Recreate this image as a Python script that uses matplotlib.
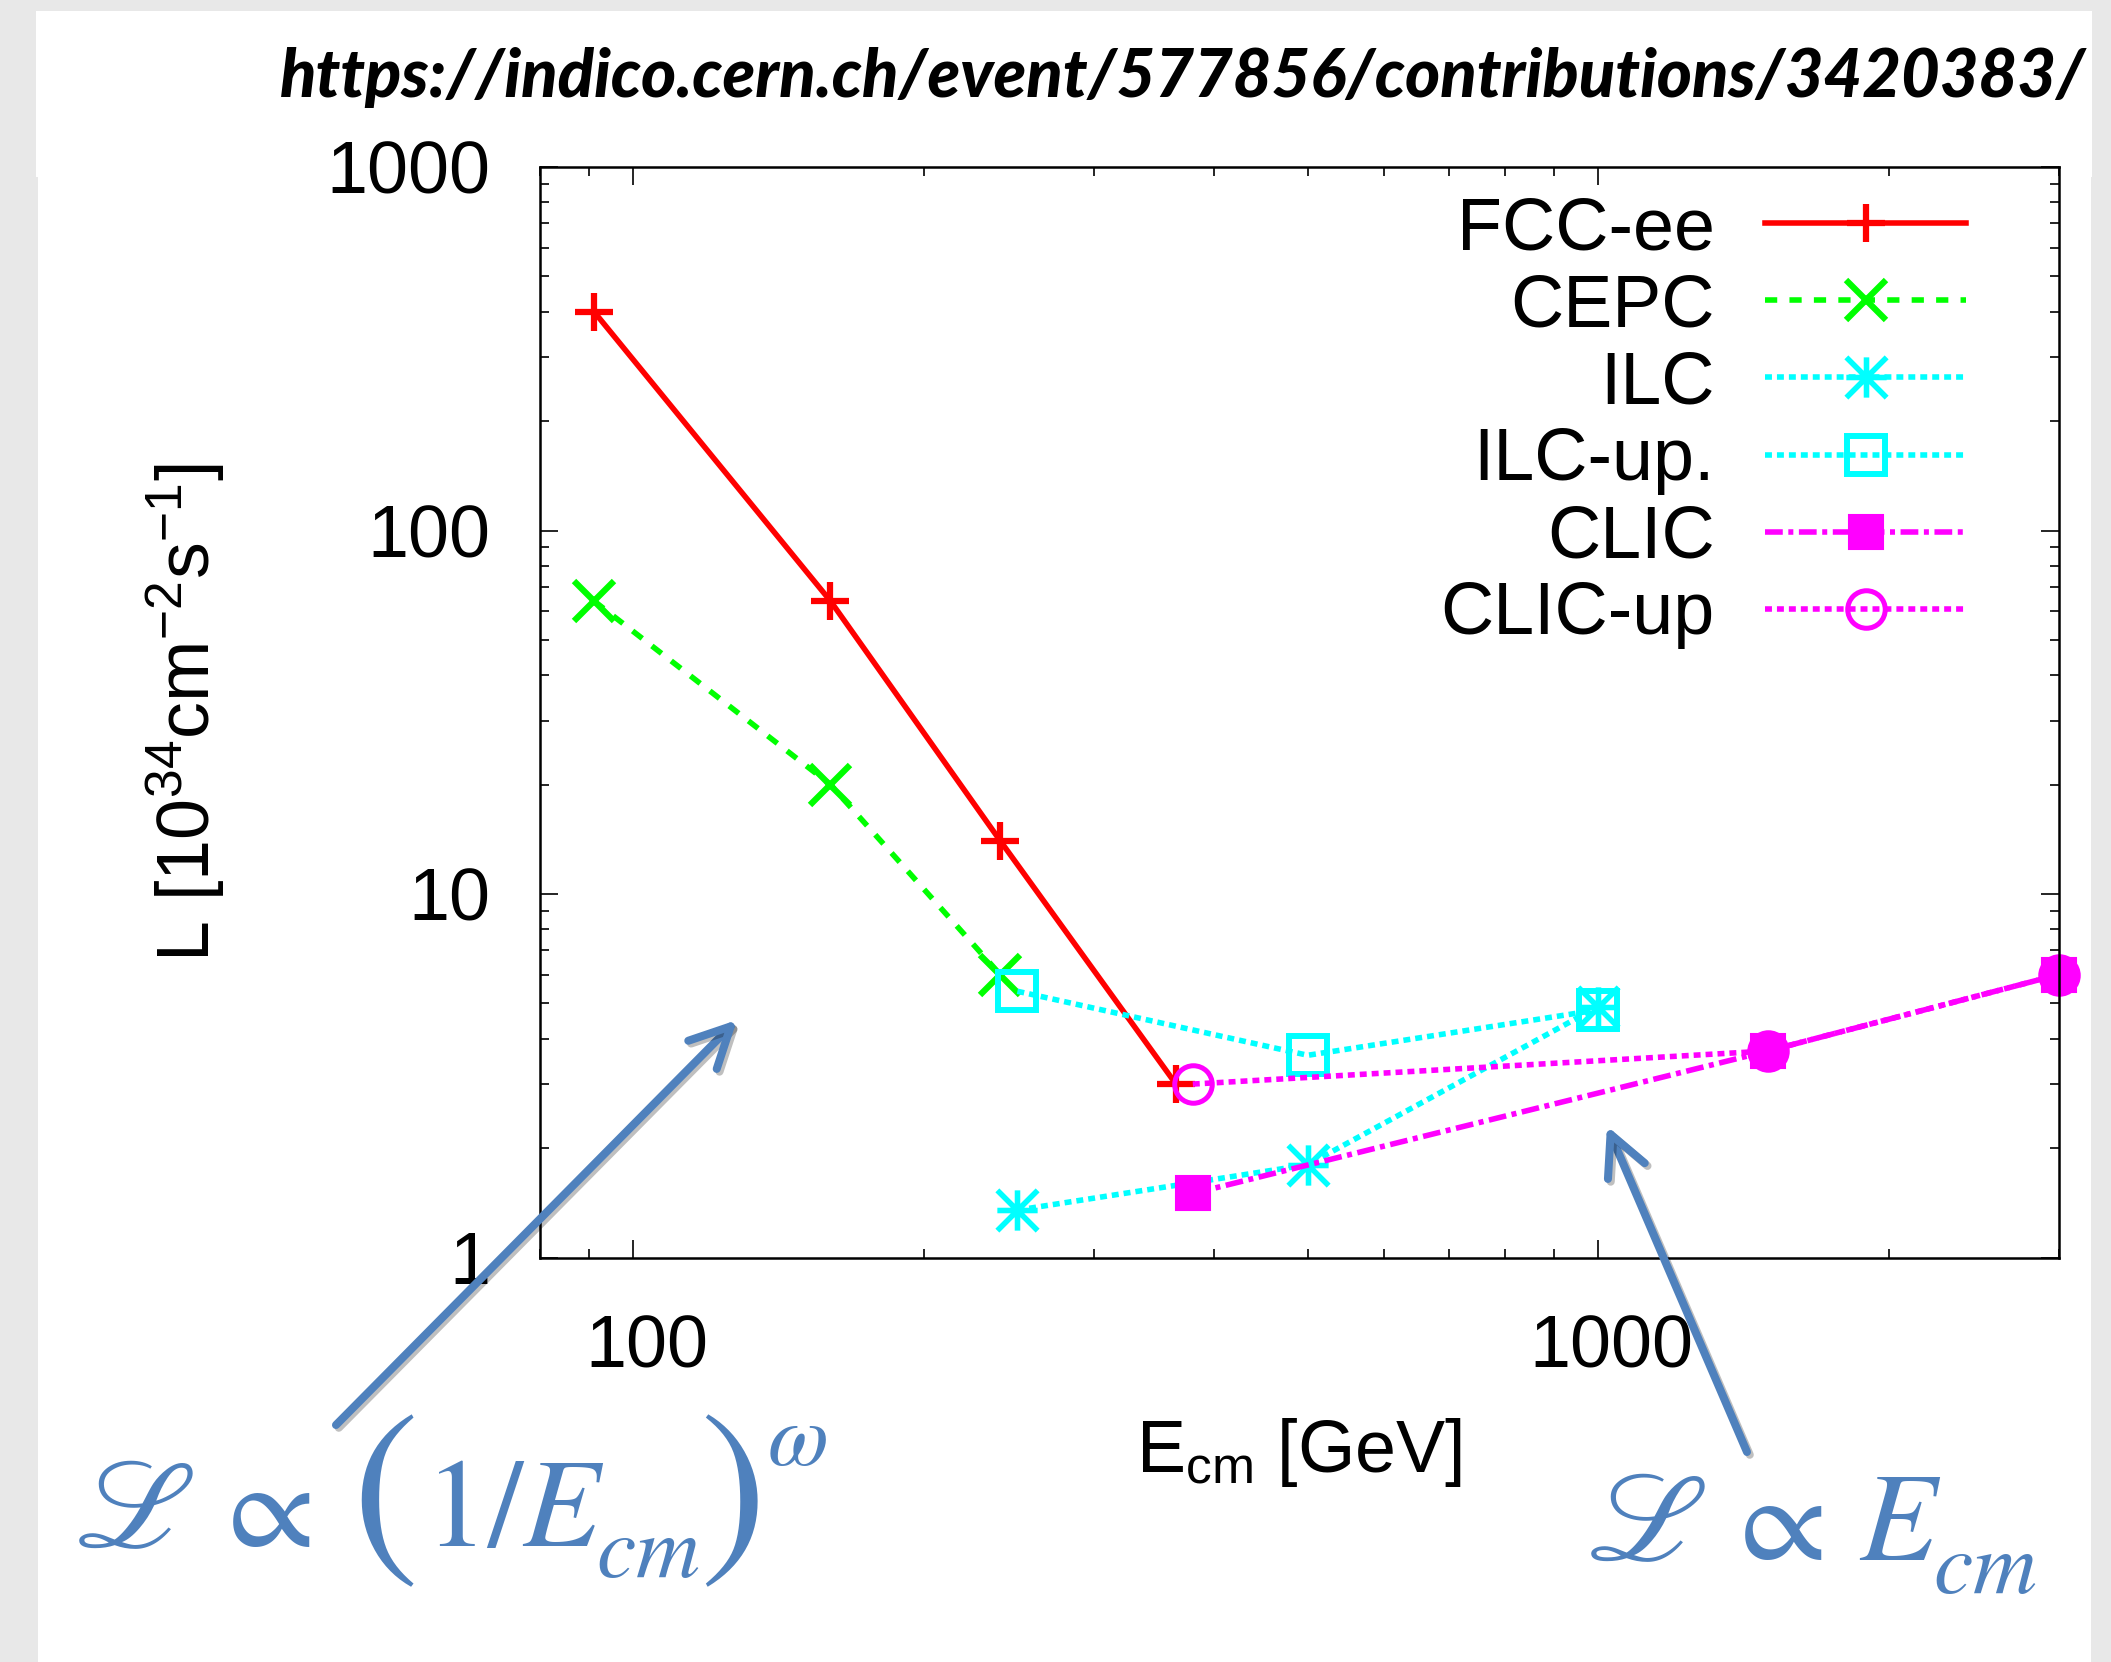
import numpy as np
import matplotlib
matplotlib.use('Agg')
import matplotlib.pyplot as plt
from matplotlib.patches import Rectangle
from matplotlib.path import Path
from matplotlib.ticker import FixedLocator, FixedFormatter, LogLocator, NullFormatter
import matplotlib.transforms as mtransforms
import matplotlib.patheffects as pe

# ---------------- data ----------------
fcc_E = [91, 160, 240, 365]
fcc_L = [400, 64, 14, 3.0]
cepc_E = [91, 160, 240]
cepc_L = [64, 20, 6.0]
ilc_E = [250, 500, 1000]
ilc_L = [1.35, 1.8, 4.9]
ilcup_E = [250, 500, 1000]
ilcup_L = [5.4, 3.6, 4.8]
clic_E = [380, 1500, 3000]
clic_L = [1.5, 3.7, 6.0]
clicup_E = [380, 1500, 3000]
clicup_L = [3.0, 3.7, 6.0]

series_labels = ['FCC-ee', 'CEPC', 'ILC', 'ILC-up.', 'CLIC', 'CLIC-up']
x_ticks = [100, 1000]
x_tick_labels = ['100', '1000']
y_ticks = [1, 10, 100, 1000]
y_tick_labels = ['1', '10', '100', '1000']
url_text = 'https://indico.cern.ch/event/577856/contributions/3420383/'

# ---------------- style ----------------
W, H = 2111, 1662
DPI = 100
plt.rcParams['font.family'] = ['Liberation Sans', 'DejaVu Sans']
plt.rcParams['mathtext.fontset'] = 'custom'
plt.rcParams['mathtext.rm'] = 'Liberation Sans'
plt.rcParams['mathtext.it'] = 'Liberation Sans:italic'
plt.rcParams['mathtext.bf'] = 'Liberation Sans:bold'
plt.rcParams['mathtext.default'] = 'it'

FS = 53
LW = 4.0
BLUE = '#4f81bd'
FF = 91  # formula font size


def fx(px):
    return px / W


def fy(py):
    return 1 - py / H


fig = plt.figure(figsize=(W / DPI, H / DPI), dpi=DPI)
fig.patch.set_facecolor('#e8e8e8')
fig.add_artist(Rectangle((fx(36), fy(177)), fx(2092) - fx(36), (177 - 11) / H,
                         transform=fig.transFigure, fc='white', ec='none', zorder=-5))
fig.add_artist(Rectangle((fx(38), 0), fx(2091) - fx(38), fy(177),
                         transform=fig.transFigure, fc='white', ec='none', zorder=-5))

ax = fig.add_axes([fx(540), fy(1257.5), (2058.5 - 540) / W, (1257.5 - 167) / H])
ax.patch.set_alpha(0)
ax.set_xscale('log')
ax.set_yscale('log')
ax.set_xlim(80, 3000)
ax.set_ylim(1, 1000)

asterisk = Path([(-1, 0), (1, 0), (0, -1), (0, 1), (-1, -1), (1, 1), (-1, 1), (1, -1)],
                [Path.MOVETO, Path.LINETO] * 4)

dotted = (0, (1.25, 0.9))
ax.plot(fcc_E, fcc_L, color='#ff0000', lw=LW, ls='-', marker='+', ms=27, mew=4.5,
        label=series_labels[0], clip_on=False)
ax.plot(cepc_E, cepc_L, color='#00ff00', lw=LW, ls=(0, (2.2, 2.2)), marker='x', ms=29, mew=4.5,
        label=series_labels[1], clip_on=False)
ax.plot(ilc_E, ilc_L, color='#00ffff', lw=LW, ls=dotted, marker=asterisk, ms=29, mew=4.0,
        label=series_labels[2], clip_on=False)
ax.plot(ilcup_E, ilcup_L, color='#00ffff', lw=LW, ls=dotted, marker='s', ms=28, mew=4.3,
        mfc='none', label=series_labels[3], clip_on=False)
ax.plot(clic_E, clic_L, color='#ff00ff', lw=LW, ls=(0, (3.2, 1.0, 0.9, 1.0)), marker='s', ms=25,
        mew=1.5, mfc='#ff00ff', label=series_labels[4], clip_on=False)
ax.plot(clicup_E, clicup_L, color='#ff00ff', lw=LW, ls=dotted, marker='o', ms=27, mew=3.6,
        mfc='none', label=series_labels[5], clip_on=False)

# axes / ticks
for sp in ax.spines.values():
    sp.set_linewidth(1.8)
ax.xaxis.set_major_locator(FixedLocator(x_ticks))
ax.xaxis.set_major_formatter(FixedFormatter(x_tick_labels))
ax.yaxis.set_major_locator(FixedLocator(y_ticks))
ax.yaxis.set_major_formatter(FixedFormatter(y_tick_labels))
ax.xaxis.set_minor_locator(LogLocator(base=10, subs=np.arange(2, 10)))
ax.yaxis.set_minor_locator(LogLocator(base=10, subs=np.arange(2, 10)))
ax.xaxis.set_minor_formatter(NullFormatter())
ax.yaxis.set_minor_formatter(NullFormatter())
ax.tick_params(which='both', direction='in', top=True, right=True, width=1.2, labelsize=FS)
ax.tick_params(which='major', length=13)
ax.tick_params(which='minor', length=6.5)
ax.tick_params(axis='y', which='major', pad=36)
ax.tick_params(axis='x', which='major', pad=40)

ax.set_ylabel(r'L [10$^{34}$cm$^{-2}$s$^{-1}$]', fontsize=FS, va='baseline', ha='center')
ax.yaxis.set_label_coords((210 - 540) / 1518.5, 0.5)
ax.set_xlabel(r'E$_{\mathrm{cm}}$ [GeV]', fontsize=FS, va='baseline', ha='center')
ax.xaxis.set_label_coords(0.5, (1257.5 - 1472) / 1090.5)

leg = ax.legend(loc='upper right', bbox_to_anchor=(fx(1966), fy(195)), bbox_transform=fig.transFigure,
                frameon=False, markerfirst=False, handlelength=2.73, handletextpad=0.68,
                labelspacing=0.11, borderpad=0, borderaxespad=0, numpoints=1,
                prop={'family': 'Liberation Sans', 'size': FS})

# URL header
url = fig.text(fx(280), fy(97), url_text, fontfamily=['Lato', 'DejaVu Sans'], fontweight='black',
               fontstyle='italic', fontsize=40, ha='left', va='baseline', color='black')

# formulas (built from pieces: tall parentheses and low subscripts)
fkw = dict(color=BLUE, math_fontfamily='stix')
fig.text(fx(74), fy(1547), r'$\mathscr{L}\,\propto$', fontsize=FF, ha='left', va='baseline', **fkw)
fig.text(fx(383), fy(1499), r'$($', fontsize=FF * 1.6, ha='center', va='center', **fkw)
e_left = fig.text(fx(424), fy(1546), r'$1/E$', fontsize=FF, ha='left', va='baseline', **fkw)
fig.text(fx(729), fy(1499), r'$)$', fontsize=FF * 1.6, ha='center', va='center', **fkw)
fig.text(fx(767), fy(1465), r'$\omega$', fontsize=FF * 0.7, ha='left', va='baseline', **fkw)
e_right = fig.text(fx(1586), fy(1560), r'$\mathscr{L}\,\propto\,E$', fontsize=FF, ha='left',
                   va='baseline', **fkw)

# arrows
arrow_kw = dict(arrowstyle='->,head_length=0.4,head_width=0.2', color=BLUE, lw=5.8,
                mutation_scale=72, shrinkA=0, shrinkB=0, capstyle='round', joinstyle='round',
                path_effects=[pe.SimpleLineShadow(offset=(2, -2), alpha=0.25), pe.Normal()])
ax.annotate('', xy=(fx(737), fy(1020)), xycoords='figure fraction',
            xytext=(fx(336), fy(1425)), textcoords='figure fraction',
            arrowprops=arrow_kw, annotation_clip=False)
ax.annotate('', xy=(fx(1607), fy(1126)), xycoords='figure fraction',
            xytext=(fx(1747), fy(1452)), textcoords='figure fraction',
            arrowprops=arrow_kw, annotation_clip=False)

fig.canvas.draw()
bb = url.get_window_extent()
url.set_fontsize(40 * 1805 / bb.width)

# subscripts placed right after the E glyphs
bl = e_left.get_window_extent()
fig.text((bl.x1 - 8) / W, fy(1577), r'$cm$', fontsize=FF * 0.7, ha='left', va='baseline', **fkw)
br = e_right.get_window_extent()
fig.text((br.x1 - 8) / W, fy(1593), r'$cm$', fontsize=FF * 0.7, ha='left', va='baseline', **fkw)

offset = mtransforms.ScaledTranslation(13 / DPI, 0, fig.dpi_scale_trans)
for lab in ax.get_xticklabels():
    lab.set_transform(lab.get_transform() + offset)

fig.savefig('out.png', dpi=DPI, facecolor=fig.get_facecolor())
